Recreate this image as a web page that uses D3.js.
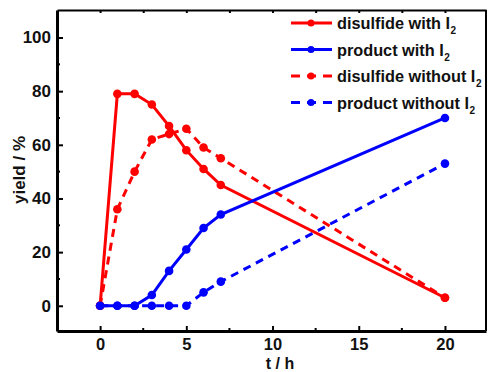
<!DOCTYPE html>
<html>
<head>
<meta charset="utf-8">
<script src="https://cdn.jsdelivr.net/npm/d3@7"></script>
<style>
  body { margin: 0; background: #fff; }
  text { font-family: 'Liberation Sans', Arial, sans-serif; font-weight: bold; fill: #111; }
</style>
</head>
<body>
<svg id="chart" width="488" height="372"></svg>
<script>
// data
const times = [0, 1, 2, 3, 4, 5, 6, 7, 20]
const disulfideWith = [0, 79, 79, 75, 67, 58, 51, 45, 3]
const productWith = [0, 0, 0, 4, 13, 21, 29, 34, 70]
const disulfideWithout = [0, 36, 50, 62, 64, 66, 59, 55, 3]
const productWithout = [0, 0, 0, 0, 0, 0, 5, 9, 53]
const xTicks = [0, 5, 10, 15, 20]
const yTicks = [0, 20, 40, 60, 80, 100]
const seriesNames = ['disulfide with I', 'product with I', 'disulfide without I', 'product without I']

const series = [
  { name: seriesNames[0], values: disulfideWith, color: '#ff0000', dash: null },
  { name: seriesNames[1], values: productWith, color: '#0000ff', dash: null },
  { name: seriesNames[2], values: disulfideWithout, color: '#ff0000', dash: '8,6' },
  { name: seriesNames[3], values: productWithout, color: '#0000ff', dash: '8,6' }
]

const plotL = 57, plotR = 486, plotT = 10, plotB = 331
const svg = d3.select('#chart')

const x = d3.scaleLinear().domain([-2.5, 22.38]).range([plotL, plotR])
const y = d3.scaleLinear().domain([-9.4, 110.25]).range([plotB, plotT])

const line = d3.line()
  .x(d => x(d[0]))
  .y(d => y(d[1]))

// lines (dashed first so solid sit on top)
const order = [2, 3, 0, 1]
order.forEach(i => {
  const s = series[i]
  const pts = times.map((t, j) => [t, s.values[j]])
  svg.append('path')
    .attr('d', line(pts))
    .attr('fill', 'none')
    .attr('stroke', s.color)
    .attr('stroke-width', 3)
    .attr('stroke-dasharray', s.dash)
  svg.append('g').selectAll('circle')
    .data(pts)
    .enter()
    .append('circle')
    .attr('cx', d => x(d[0]))
    .attr('cy', d => y(d[1]))
    .attr('r', 4.3)
    .attr('fill', s.color)
})

// axes, ticks inward
const xAxis = d3.axisBottom(x).tickValues(xTicks).tickSize(-5).tickPadding(7).tickSizeOuter(0)
const gx = svg.append('g').attr('transform', 'translate(0,' + plotB + ')').call(xAxis)
gx.selectAll('text').attr('font-size', '16.5px')
gx.append('g').selectAll('line')
  .data([-2.5, 2.5, 7.5, 12.5, 17.5, 22.5].filter(v => v <= 22.38))
  .enter().append('line')
  .attr('x1', d => x(d)).attr('x2', d => x(d))
  .attr('y1', 0).attr('y2', -3)
  .attr('stroke', '#000').attr('stroke-width', 2)

const gxTop = svg.append('g').attr('transform', 'translate(0,' + plotT + ')')
  .call(d3.axisTop(x).tickValues(xTicks.concat([2.5, 7.5, 12.5, 17.5])).tickSize(-3).tickFormat('').tickSizeOuter(0))

const yAxis = d3.axisLeft(y).tickValues(yTicks).tickSize(-6).tickPadding(6).tickSizeOuter(0)
const gy = svg.append('g').attr('transform', 'translate(' + plotL + ',0)').call(yAxis)
gy.selectAll('text').attr('font-size', '17px')
gy.append('g').selectAll('line')
  .data([10, 30, 50, 70, 90])
  .enter().append('line')
  .attr('y1', d => y(d)).attr('y2', d => y(d))
  .attr('x1', 0).attr('x2', 3)
  .attr('stroke', '#000').attr('stroke-width', 2)

svg.selectAll('.domain').attr('stroke', '#000')
gx.select('.domain').attr('stroke-width', 3)
gy.select('.domain').attr('stroke-width', 3)
gxTop.select('.domain').attr('stroke-width', 2)
svg.selectAll('.tick line').attr('stroke', '#000').attr('stroke-width', 2)

// right border
svg.append('line')
  .attr('x1', plotR).attr('x2', plotR)
  .attr('y1', plotT).attr('y2', plotB)
  .attr('stroke', '#000').attr('stroke-width', 2)

// axis titles
svg.append('text')
  .attr('transform', 'translate(25,170) rotate(-90)')
  .attr('text-anchor', 'middle')
  .attr('font-size', '17px')
  .text('yield / %')
svg.append('text')
  .attr('x', 280).attr('y', 369)
  .attr('text-anchor', 'middle')
  .attr('font-size', '16px')
  .text('t / h')

// legend
const legend = svg.append('g')
series.forEach((s, i) => {
  const ly = 23 + i * 26.5
  legend.append('line')
    .attr('x1', 291).attr('x2', 332)
    .attr('y1', ly).attr('y2', ly)
    .attr('stroke', s.color).attr('stroke-width', 3)
    .attr('stroke-dasharray', s.dash ? '9,7' : null)
  legend.append('circle')
    .attr('cx', 311).attr('cy', ly).attr('r', 3.5).attr('fill', s.color)
  const t = legend.append('text')
    .attr('x', 337).attr('y', ly + 6)
    .attr('font-size', '16.3px')
    .text(s.name)
  t.append('tspan')
    .attr('font-size', '10px')
    .attr('dy', 5)
    .attr('dx', 0.5)
    .text('2')
})
</script>
</body>
</html>
